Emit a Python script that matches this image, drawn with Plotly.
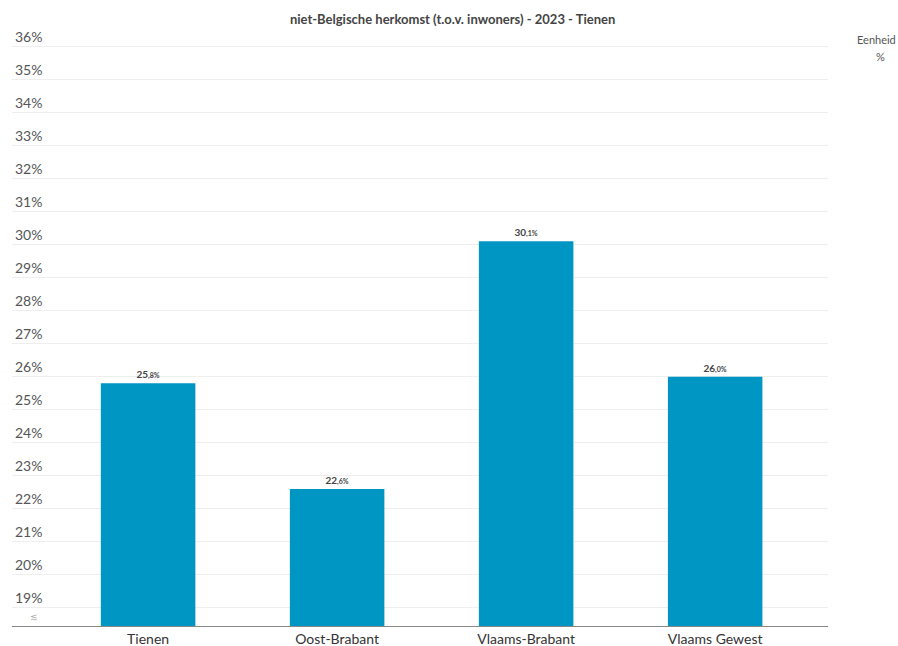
import plotly.graph_objects as go

categories = ["Tienen", "Oost-Brabant", "Vlaams-Brabant", "Vlaams Gewest"]
values = [25.8, 22.6, 30.1, 26.0]
tick_vals = list(range(19, 37))
tick_text = [f"{v}%" for v in tick_vals]
title = "niet-Belgische herkomst (t.o.v. inwoners) - 2023 - Tienen"

def fmt(v):
    whole, dec = f"{v:.1f}".split(".")
    return f"<b>{whole}</b><span style='font-size:7px'><b>,{dec}%</b></span>"

labels = [fmt(v) for v in values]

fig = go.Figure(go.Bar(
    x=categories, y=values, text=labels, textposition="outside",
    marker=dict(color="#0096c3", line=dict(width=0)),
    width=0.5, cliponaxis=False,
    textfont=dict(family="Lato", size=10, color="#444"),
    hoverinfo="skip",
))

fig.update_layout(
    width=898, height=646,
    margin=dict(l=12, r=70, t=20, b=20, autoexpand=False),
    paper_bgcolor="white", plot_bgcolor="white",
    font=dict(family="Lato", color="#444"),
    title=dict(text=f"<b>{title}</b>", x=0.504, xanchor="center", y=0.97, yanchor="middle",
               font=dict(family="Lato", size=13, color="#444")),
    showlegend=False,
)
fig.update_xaxes(
    range=[-0.72, 3.597], showgrid=False, showline=True, linecolor="#888", linewidth=1,
    ticks="", tickfont=dict(family="Lato", size=14, color="#333"), fixedrange=True,
    automargin=False,
)
fig.update_yaxes(
    range=[18.45, 36.8], tickmode="array", tickvals=tick_vals, ticktext=tick_text,
    ticklabelposition="inside top", tickfont=dict(family="Lato", size=14, color="#555"),
    showgrid=True, gridcolor="#eeeeee", gridwidth=1, zeroline=False, showline=False,
    ticks="", fixedrange=True, automargin=False,
)
fig.add_annotation(xref="paper", yref="paper", x=1.0855, xanchor="right", y=0.985, yshift=-2,
                   text="Eenheid", showarrow=False, font=dict(family="Lato", size=11, color="#555"))
fig.add_annotation(xref="paper", yref="paper", x=1.0723, y=0.957, yshift=-2, text="%",
                   showarrow=False, font=dict(family="Lato", size=11, color="#555"))
fig.add_annotation(xref="paper", yref="paper", x=0.019, y=0.0, yshift=2, text="≲",
                   showarrow=False, font=dict(family="DejaVu Sans", size=9, color="#aaa"))

fig.write_html("out.html", config={"displayModeBar": False},
               post_script="document.body.style.margin='0';")
